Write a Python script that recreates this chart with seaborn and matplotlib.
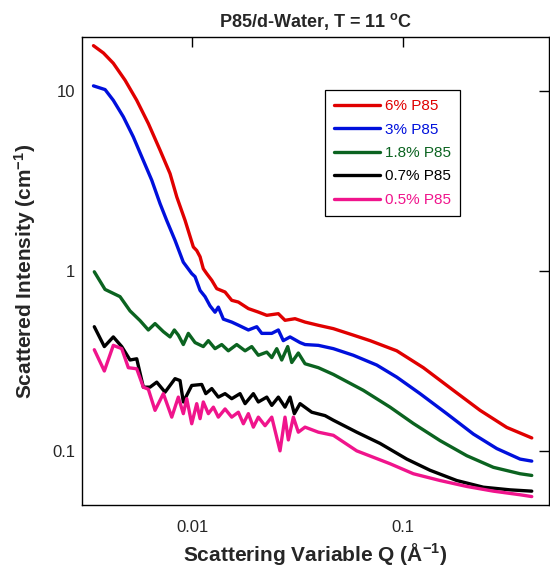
import numpy as np
import pandas as pd
import matplotlib
matplotlib.use("Agg")
import matplotlib.pyplot as plt
import seaborn as sns

# ---------------- data ----------------
labels = ["6% P85", "3% P85", "1.8% P85", "0.7% P85", "0.5% P85"]
colors = ["#e00000", "#0010dc", "#0b6320", "#000000", "#f0148c"]

q_6 = [0.00340, 0.00379, 0.00422, 0.00480, 0.00545, 0.00619, 0.00703, 0.00784, 0.00844, 0.00924,
       0.01011, 0.01049, 0.01088, 0.01127, 0.01170, 0.01236, 0.01305, 0.01429, 0.01537, 0.01652,
       0.01843, 0.02055, 0.02253, 0.02556, 0.02749, 0.03067, 0.03420, 0.03956, 0.04660, 0.05794,
       0.06954, 0.09305, 0.1244, 0.1726, 0.2310, 0.3090, 0.4060]
i_6 = [17.9, 16.3, 14.3, 11.5, 8.9, 6.6, 4.7, 3.48, 2.58, 1.91,
       1.36, 1.30, 1.20, 1.03, 0.967, 0.888, 0.798, 0.764, 0.687, 0.672,
       0.618, 0.591, 0.567, 0.579, 0.532, 0.543, 0.52, 0.499, 0.478, 0.44,
       0.41, 0.36, 0.29, 0.217, 0.168, 0.135, 0.118]

q_3 = [0.00340, 0.00386, 0.00422, 0.00471, 0.00525, 0.00576, 0.00642, 0.00703, 0.00756, 0.00828,
       0.00906, 0.00994, 0.01030, 0.01088, 0.01149, 0.01213, 0.01281, 0.01328, 0.01403, 0.01537,
       0.01652, 0.01843, 0.02020, 0.02133, 0.02379, 0.02556, 0.02698, 0.02904, 0.03239, 0.03420,
       0.03956, 0.04660, 0.05794, 0.07479, 0.09305, 0.1200, 0.1606, 0.2147, 0.2771, 0.3574, 0.4060]
i_3 = [10.7, 10.2, 8.9, 7.2, 5.57, 4.31, 3.2, 2.37, 1.91, 1.48,
       1.12, 0.967, 0.93, 0.78, 0.72, 0.64, 0.59, 0.63, 0.54, 0.52,
       0.50, 0.47, 0.49, 0.45, 0.45, 0.47, 0.41, 0.43, 0.40, 0.39,
       0.386, 0.37, 0.34, 0.30, 0.257, 0.208, 0.161, 0.124, 0.103, 0.090, 0.0877]

q_18 = [0.003431, 0.003857, 0.004543, 0.005067, 0.005651, 0.006187, 0.006656, 0.007289, 0.007841, 0.008217,
        0.008583, 0.009064, 0.009572, 0.01030, 0.01127, 0.01191, 0.01281, 0.01378, 0.01481, 0.01623,
        0.01778, 0.01912, 0.02055, 0.02253, 0.02379, 0.02512, 0.02652, 0.02831, 0.02959, 0.03179,
        0.03420, 0.03956, 0.04660, 0.06462, 0.08650, 0.1115, 0.1493, 0.1998, 0.2670, 0.3574, 0.4060]
i_18 = [0.99, 0.79, 0.72, 0.60, 0.53, 0.47, 0.51, 0.46, 0.43, 0.47,
        0.44, 0.39, 0.45, 0.40, 0.38, 0.41, 0.37, 0.39, 0.36, 0.39,
        0.36, 0.38, 0.34, 0.354, 0.33, 0.37, 0.32, 0.38, 0.31, 0.35,
        0.305, 0.29, 0.266, 0.217, 0.175, 0.142, 0.114, 0.094, 0.081, 0.0746, 0.073]

q_07 = [0.003431, 0.003828, 0.004222, 0.004628, 0.005067, 0.005450, 0.005859, 0.006302, 0.006781, 0.007425,
        0.008279, 0.008743, 0.009064, 0.009935, 0.01108, 0.01158, 0.01236, 0.01328, 0.01429, 0.01537,
        0.01683, 0.01778, 0.01946, 0.02055, 0.02253, 0.02379, 0.02556, 0.02749, 0.02904, 0.03044,
        0.03239, 0.03681, 0.04255, 0.04660, 0.06013, 0.07755, 0.1038, 0.1338, 0.1791, 0.2394, 0.3205, 0.4060]
i_07 = [0.49, 0.38, 0.43, 0.38, 0.32, 0.325, 0.226, 0.226, 0.241, 0.212,
        0.252, 0.246, 0.187, 0.231, 0.234, 0.208, 0.222, 0.199, 0.208, 0.195,
        0.208, 0.183, 0.208, 0.187, 0.199, 0.179, 0.199, 0.175, 0.199, 0.161,
        0.183, 0.164, 0.157, 0.148, 0.127, 0.110, 0.090, 0.078, 0.0684, 0.0628, 0.0607, 0.0597]

q_05 = [0.003431, 0.003828, 0.004222, 0.004628, 0.004974, 0.005450, 0.005859, 0.006187, 0.006656, 0.007289,
        0.007989, 0.008583, 0.009064, 0.009408, 0.009935, 0.01049, 0.01088, 0.01127, 0.01191, 0.01258,
        0.01328, 0.01429, 0.01537, 0.01652, 0.01745, 0.01843, 0.01946, 0.02055, 0.02211, 0.02379,
        0.02603, 0.02749, 0.02851, 0.03011, 0.03179, 0.03420, 0.03956, 0.04660, 0.06013, 0.08650,
        0.1115, 0.1493, 0.1998, 0.2670, 0.3574, 0.4060]
i_05 = [0.365, 0.278, 0.386, 0.37, 0.29, 0.286, 0.226, 0.22, 0.168, 0.208,
        0.154, 0.199, 0.161, 0.195, 0.1415, 0.183, 0.151, 0.187, 0.161, 0.175,
        0.154, 0.171, 0.154, 0.164, 0.1415, 0.161, 0.1355, 0.154, 0.138, 0.154,
        0.100, 0.154, 0.115, 0.154, 0.127, 0.1355, 0.127, 0.122, 0.100, 0.0848,
        0.0746, 0.0684, 0.0634, 0.0597, 0.057, 0.0557]

x_ticks = [0.01, 0.1]
x_ticklabels = ["0.01", "0.1"]
y_ticks = [0.1, 1, 10]
y_ticklabels = ["0.1", "1", "10"]

title = r"P85/d-Water, T = 11 $^{\mathrm{o}}$C"
xlabel = r"Scattering Variable Q ($\mathrm{\AA}^{-1}$)"
ylabel = r"Scattered Intensity (cm$^{-1}$)"

# ---------------- build long table ----------------
series = [(labels[0], q_6, i_6), (labels[1], q_3, i_3), (labels[2], q_18, i_18),
          (labels[3], q_07, i_07), (labels[4], q_05, i_05)]
frames = []
for lab, q, inten in series:
    frames.append(pd.DataFrame({"Q": q, "I": inten, "sample": lab}))
df = pd.concat(frames, ignore_index=True)

# ---------------- style ----------------
sns.set_style("white")
plt.rcParams["font.family"] = ["Liberation Sans", "DejaVu Sans"]
plt.rcParams["mathtext.fontset"] = "custom"
plt.rcParams["mathtext.rm"] = "Liberation Sans:bold"
plt.rcParams["mathtext.bf"] = "Liberation Sans:bold"
plt.rcParams["mathtext.it"] = "Liberation Sans:bold"
plt.rcParams["mathtext.default"] = "rm"

fig = plt.figure(figsize=(5.5, 5.67), dpi=100)
ax = fig.add_axes([82 / 550, 1 - 505 / 567, (549 - 82) / 550, (505 - 37) / 567])

sns.lineplot(data=df, x="Q", y="I", hue="sample", hue_order=labels,
             palette=dict(zip(labels, colors)), estimator=None, sort=False,
             linewidth=2.4, ax=ax)

ax.set_xscale("log")
ax.set_yscale("log")
ax.set_xlim(0.0030, 0.490)
ax.set_ylim(0.05, 20)

ax.xaxis.set_major_locator(matplotlib.ticker.FixedLocator(x_ticks))
ax.xaxis.set_minor_locator(matplotlib.ticker.NullLocator())
ax.yaxis.set_major_locator(matplotlib.ticker.FixedLocator(y_ticks))
ax.yaxis.set_minor_locator(matplotlib.ticker.NullLocator())
ax.set_xticklabels(x_ticklabels)
ax.set_yticklabels(y_ticklabels)

ax.tick_params(axis="both", which="major", direction="in", length=7, width=1,
               color="black", top=True, right=True, labelsize=12)
ax.tick_params(axis="x", pad=11)
ax.tick_params(axis="y", pad=5)

for s in ax.spines.values():
    s.set_color("black")
    s.set_linewidth(1.0)
    s.set_visible(True)

ax.set_xlabel(xlabel, fontsize=15, fontweight="bold", labelpad=4)
ax.set_ylabel(ylabel, fontsize=15, fontweight="bold", labelpad=10)
ax.set_title(title, fontsize=13, fontweight="bold", pad=7)

handles, labs = ax.get_legend_handles_labels()
leg = ax.legend(handles, labs, loc="upper left", bbox_to_anchor=(0.520, 0.887),
                borderaxespad=0, frameon=True, fancybox=False, framealpha=1,
                edgecolor="black", fontsize=11, handlelength=3.0, handletextpad=0.35,
                labelspacing=0.62, borderpad=0.6)
leg.get_frame().set_linewidth(0.9)
for txt, c in zip(leg.get_texts(), colors):
    txt.set_color(c)
for ln in leg.get_lines():
    ln.set_linewidth(2.4)

fig.savefig("out.png", dpi=100)
